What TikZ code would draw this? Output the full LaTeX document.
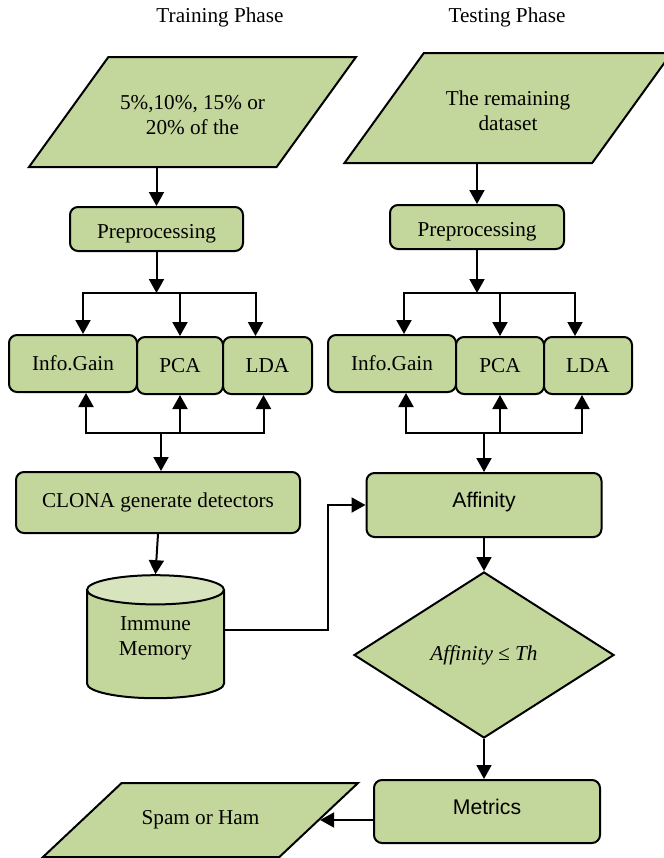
\documentclass[tikz,border=0pt]{standalone}
\usepackage{fontspec}
\setmainfont{Liberation Serif}
\newfontfamily\arialfont{Liberation Sans}
\usetikzlibrary{shapes.geometric,arrows.meta}
\definecolor{boxgreen}{RGB}{195,214,155}
\definecolor{topgreen}{RGB}{215,228,189}

\begin{document}
\begin{tikzpicture}[x=0.5pt,y=-0.5pt,
		every node/.style={font=\fontsize{10.6}{12.5}\selectfont},
		arr/.style={line width=1pt,-{Triangle[length=7pt,width=7.5pt]}},
		box/.style={draw,line width=1pt,fill=boxgreen,rounded corners=4pt,inner sep=0pt,align=center},
		dataset/.style={draw,line width=1pt,fill=boxgreen,trapezium,trapezium stretches body,inner xsep=0pt,align=center},
		decision/.style={draw,line width=1pt,fill=boxgreen,diamond,aspect=1.57,inner sep=0pt,minimum width=130pt,minimum height=83pt},
		store/.style={draw,line width=1pt,cylinder,shape border rotate=90,aspect=0.4,cylinder uses custom fill,cylinder body fill=boxgreen,cylinder end fill=topgreen,inner sep=0pt,align=center}]
		\useasboundingbox (0,0) rectangle (664,858);

		% titles
		\node (trainT) at (220,17) {Training Phase};
		\node (testT) at (507,17) {Testing Phase};

		% training side
		\node[dataset,trapezium left angle=54,trapezium right angle=126,text height=22.5pt,inner ysep=16pt,minimum width=163.5pt,minimum height=55pt] (inL) at (192.5,112) {5\%,10\%, 15\% or\\20\% of the};
		\node[box,minimum width=86.5pt,minimum height=22pt,text height=11.3pt,text depth=2.3pt] (preL) at (156.5,229) {Preprocessing};
		\node[box,minimum width=64pt,minimum height=28.5pt] (igL) at (73,363.5) {Info.Gain};
		\node[box,minimum width=43pt,minimum height=28.5pt] (pcaL) at (180,365.5) {PCA};
		\node[box,minimum width=44.5pt,minimum height=28.5pt] (ldaL) at (267.5,365.5) {LDA};
		\node[box,minimum width=142pt,minimum height=30.5pt] (clona) at (158,502.5) {CLONA generate detectors};
		\node[store,minimum width=68.5pt,minimum height=61.5pt,text depth=8.3pt] (mem) at (155.5,644.5) {Immune\\Memory};

		% testing side
		\node[dataset,trapezium left angle=54,trapezium right angle=126,text height=22.5pt,inner ysep=16pt,minimum width=163.5pt,minimum height=55pt] (inR) at (508,108) {The remaining\\dataset};
		\node[box,minimum width=87pt,minimum height=22pt,text height=11.3pt,text depth=2.3pt] (preR) at (477,227) {Preprocessing};
		\node[box,minimum width=64pt,minimum height=28.5pt] (igR) at (392,363.5) {Info.Gain};
		\node[box,minimum width=44pt,minimum height=28.5pt] (pcaR) at (500,365.5) {PCA};
		\node[box,minimum width=44pt,minimum height=28.5pt] (ldaR) at (588,365.5) {LDA};
		\node[box,minimum width=117.5pt,minimum height=32pt,text height=7.5pt,text depth=5pt,font=\arialfont\fontsize{10.6}{12.5}\selectfont] (aff) at (484,505) {Affinity};
		\node[decision] (dec) at (484,655) {\itshape Affinity ≤ Th};
		\node[box,minimum width=113pt,minimum height=31.5pt,text height=7.5pt,text depth=5pt,font=\arialfont\fontsize{10.6}{12.5}\selectfont] (met) at (487,811.5) {Metrics};
		\node[dataset,trapezium left angle=43,trapezium right angle=137,inner ysep=13.7pt,minimum width=157.5pt,minimum height=37pt] (out) at (200.5,820) {Spam or Ham};

		% bus points
		\coordinate (busL) at (156.5,293);
		\coordinate (upL) at (161,433);
		\coordinate (busR) at (477,293);
		\coordinate (upR) at (484,433);

		% training arrows
		\draw[arr] (inL.south -| preL.north) -- (preL.north);
		\draw[arr] (preL.south) -- (busL);
		\draw[arr] (busL) -| ([xshift=5pt]igL.north);
		\draw[arr] (busL -| pcaL.north) -- (pcaL.north);
		\draw[arr] (busL) -| ([xshift=-6pt]ldaL.north);
		\draw[arr] (upL) -| ([xshift=6.5pt]igL.south);
		\draw[arr] (upL -| pcaL.south) -- (pcaL.south);
		\draw[arr] (upL) -| ([xshift=-2pt]ldaL.south);
		\draw[arr] (upL) -- (upL |- clona.north);
		\draw[arr] (clona.south) -- (mem.north);
		\draw[arr] ([yshift=7.5pt]mem.east) -- ++(51.5pt,0) |- (aff.west);

		% testing arrows
		\draw[arr] (inR.south -| preR.north) -- (preR.north);
		\draw[arr] (preR.south) -- (busR);
		\draw[arr] (busR) -| ([xshift=6pt]igR.north);
		\draw[arr] (busR -| pcaR.north) -- (pcaR.north);
		\draw[arr] (busR) -| ([xshift=-6.5pt]ldaR.north);
		\draw[arr] (upR) -| ([xshift=7pt]igR.south);
		\draw[arr] (upR -| pcaR.south) -- (pcaR.south);
		\draw[arr] (upR) -| ([xshift=-3pt]ldaR.south);
		\draw[arr] (upR) -- (aff.north);
		\draw[arr] (aff.south) -- (dec.north);
		\draw[arr] (dec.south) -- (dec.south |- met.north);
		\draw[arr] (met.west |- out.east) -- (out.east);
	\end{tikzpicture}
\end{document}
